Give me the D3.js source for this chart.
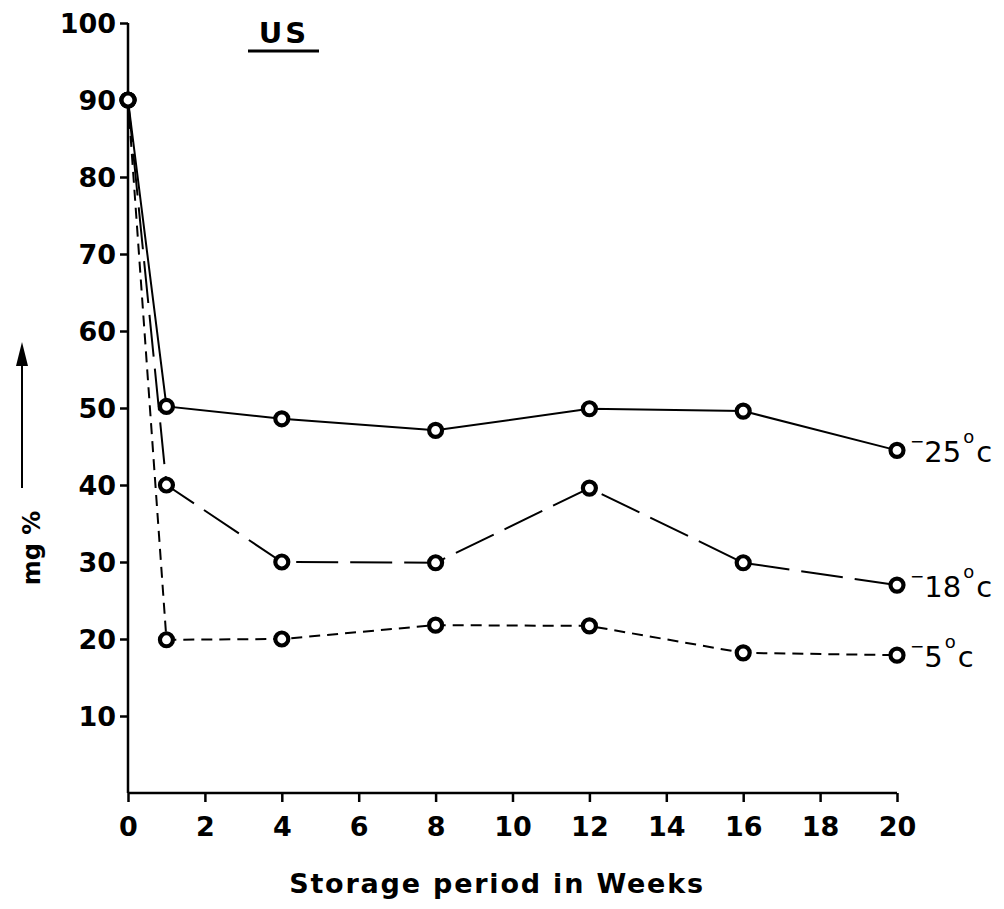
<!DOCTYPE html>
<html><head><meta charset="utf-8">
<script src="https://cdn.jsdelivr.net/npm/d3@7/dist/d3.min.js"></script>
<style>body{margin:0;background:#fff}svg{display:block}</style>
</head><body>
<svg id="c" width="1004" height="909"></svg>
<script>
const weeks = [0, 1, 4, 8, 12, 16, 20];
const s25 = [90, 50.2, 48.6, 47.1, 49.9, 49.6, 44.5];
const s18 = [90, 40.0, 30.0, 29.9, 39.6, 29.9, 27.0];
const s5  = [90, 19.9, 20.0, 21.8, 21.7, 18.2, 17.9];
const seriesNames = ["25", "18", "5"];
const xTicks = [0, 2, 4, 6, 8, 10, 12, 14, 16, 18, 20];
const yTicks = [10, 20, 30, 40, 50, 60, 70, 80, 90, 100];

const svg = d3.select("#c");
const font = "'DejaVu Sans', sans-serif";
const x = d3.scaleLinear().domain([0, 20]).range([128, 897]);
const y = d3.scaleLinear().domain([0, 100]).range([793, 23]);

// axes
const yAxis = d3.axisLeft(y).tickValues(yTicks).tickSize(8).tickPadding(4).tickFormat(d3.format("d"));
const gy = svg.append("g").attr("transform", "translate(128,0)").call(yAxis);
gy.select(".domain").attr("d", `M0,${y(100)}V${y(0)}`).attr("stroke", "#000").attr("stroke-width", 2.5);
gy.selectAll(".tick line").attr("stroke", "#000").attr("stroke-width", 2.5);
gy.selectAll(".tick text").attr("font-family", font).attr("font-weight", "bold")
  .attr("font-size", 27).attr("fill", "#000").attr("dy", "0.35em");

const xAxis = d3.axisBottom(x).tickValues(xTicks).tickSize(9).tickPadding(10).tickFormat(d3.format("d"));
const gx = svg.append("g").attr("transform", `translate(0,${y(0)})`).call(xAxis);
gx.select(".domain").attr("d", `M${x(0)},0H${x(20)}`).attr("stroke", "#000").attr("stroke-width", 2.5);
gx.selectAll(".tick line").attr("stroke", "#000").attr("stroke-width", 2.5);
gx.selectAll(".tick text").attr("font-family", font).attr("font-weight", "bold")
  .attr("font-size", 27).attr("fill", "#000").attr("dy", "0.9em");

// lines
const line = d3.line().x((d, i) => x(weeks[i])).y(d => y(d));
const series = [
  {name: seriesNames[0], vals: s25, dash: null},
  {name: seriesNames[1], vals: s18, dash: "42,12"},
  {name: seriesNames[2], vals: s5, dash: "11,7"}
];
series.forEach(s => {
  svg.append("path").attr("d", line(s.vals)).attr("fill", "none")
    .attr("stroke", "#000").attr("stroke-width", 2)
    .attr("stroke-dasharray", s.dash);
});
series.forEach(s => {
  svg.append("g").selectAll("circle").data(s.vals).join("circle")
    .attr("cx", (d, i) => x(weeks[i])).attr("cy", d => y(d)).attr("r", 6.5)
    .attr("fill", "#fff").attr("stroke", "#000").attr("stroke-width", 4.2);
});

// end labels
series.forEach(s => {
  const last = s.vals[s.vals.length - 1];
  const t = svg.append("text").attr("x", x(20) + 13).attr("y", y(last) + 12)
    .attr("font-family", font).attr("font-size", 29).attr("fill", "#000");
  t.append("tspan").text("\u2212").attr("font-size", 17).attr("dy", -15);
  t.append("tspan").text(s.name).attr("dy", 15);
  t.append("tspan").text("o").attr("font-size", 18).attr("dy", -19).attr("dx", 2);
  t.append("tspan").text("c").attr("dy", 19).attr("dx", 2);
});

// title
svg.append("text").attr("x", 284).attr("y", 43).attr("text-anchor", "middle")
  .attr("font-family", font).attr("font-weight", "bold").attr("font-size", 29)
  .attr("letter-spacing", 3).text("US");
svg.append("line").attr("x1", 248).attr("x2", 319).attr("y1", 51).attr("y2", 51)
  .attr("stroke", "#000").attr("stroke-width", 3);

// y label
svg.append("text").attr("transform", "translate(40,548) rotate(-90)").attr("text-anchor", "middle")
  .attr("font-family", font).attr("font-weight", "bold").attr("font-size", 24).text("mg %");
svg.append("line").attr("x1", 22).attr("x2", 22).attr("y1", 488).attr("y2", 360)
  .attr("stroke", "#000").attr("stroke-width", 2);
svg.append("path").attr("d", "M22,342 L16,366 L28,366 Z").attr("fill", "#000");

// x label
svg.append("text").attr("x", 497).attr("y", 893).attr("text-anchor", "middle")
  .attr("font-family", font).attr("font-weight", "bold").attr("font-size", 27)
  .attr("letter-spacing", 1.8).text("Storage period in Weeks");
</script>
</body></html>
